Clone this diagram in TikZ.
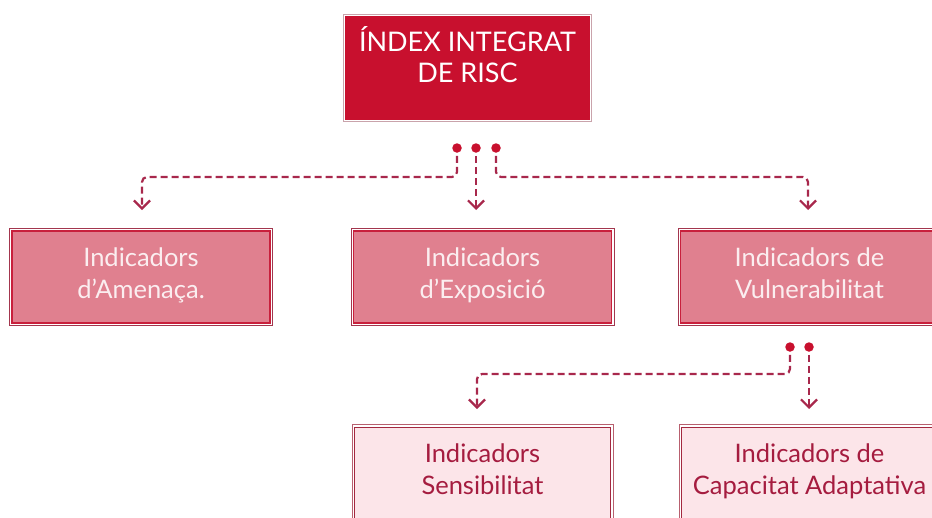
\documentclass[tikz,border=0pt]{standalone}
\usepackage{fontspec}
\setmainfont{Lato}
\usetikzlibrary{arrows.meta,positioning}

\definecolor{riscred}{HTML}{C8102E}
\definecolor{riscedge}{HTML}{C9A3AB}
\definecolor{midfill}{HTML}{E0808F}
\definecolor{midline}{HTML}{C8203C}
\definecolor{midedge}{HTML}{A3364E}
\definecolor{midtext}{HTML}{FBEEF0}
\definecolor{lowfill}{HTML}{FCE5E9}
\definecolor{lowline}{HTML}{A3283F}
\definecolor{lowedge}{HTML}{B8606F}
\definecolor{lowtext}{HTML}{A51C3F}
\definecolor{linkcol}{HTML}{A8284C}

\begin{document}
\begin{tikzpicture}[x=1pt,y=-1pt,
  caixa/.style={rectangle,align=center,inner sep=0pt,
    preaction={draw=#1,line width=6pt},
    preaction={draw=white,line width=4pt}},
  topbox/.style={caixa=riscedge,fill=riscred,draw=riscred,line width=1.5pt,
    minimum width=243pt,minimum height=102pt,text=white,
    font=\fontsize{27}{31}\selectfont},
  midbox/.style={caixa=midedge,fill=midfill,draw=midline,line width=1.5pt,
    minimum width=258pt,minimum height=92pt,text=midtext,
    font=\fontsize{25.5}{32}\selectfont},
  lowbox/.style={caixa=lowedge,fill=lowfill,draw=lowline,line width=1pt,
    minimum width=256pt,minimum height=92pt,text=lowtext,
    font=\fontsize{25.5}{32}\selectfont},
  dot/.style={circle,fill=riscred,inner sep=0pt,minimum size=9.5pt},
  link/.style={draw=linkcol,line width=2.2pt,dash pattern=on 7pt off 4pt,
    rounded corners=5pt,-{Straight Barb[length=8pt,width=16pt,line width=2.2pt]}}]
\clip (0,0) rectangle (932,517);
\useasboundingbox (0,0) rectangle (932,517);

% boxes
\node[topbox] (risc) at (467.5,68) {ÍNDEX INTEGRAT\\DE RISC\\[-3pt]\mbox{}};

\node[midbox] (amen) at (141,277) {Indicadors\\d’Amenaça.\\[-25pt]\mbox{}};
\node[midbox] (expo) at (482.5,277) {Indicadors\\d’Exposició\\[-25pt]\mbox{}};
\node[midbox] (vuln) at (809.5,277) {Indicadors de\\Vulnerabilitat\\[-25pt]\mbox{}};

\node[lowbox] (sens) at (482.5,473) {Indicadors\\Sensibilitat\\[-25pt]\mbox{}};
\node[lowbox] (adap) at (809.5,473) {Indicadors de\\Capacitat Adaptativa\\[-25pt]\mbox{}};

% dots and arrow ends
\node[dot] (da) at (457,148) {};
\node[dot] (db) at (476,148) {};
\node[dot] (dc) at (496,148) {};
\node[dot] (dd) at (790,347) {};
\node[dot] (de) at (809,347) {};

\coordinate (ta) at (142,210);
\coordinate (tb) at (476,210);
\coordinate (tc) at (808,210);
\coordinate (td) at (477,409);
\coordinate (te) at (809,409);

% connectors
\draw[link] ([yshift=-3pt]da.south) -- (da |- 0,177) -| (ta);
\draw[link] ([yshift=-3pt]db.south) -- (tb);
\draw[link] ([yshift=-3pt]dc.south) -- (dc |- 0,177) -| (tc);
\draw[link] ([yshift=-3pt]dd.south) -- (dd |- 0,374) -| (td);
\draw[link] ([yshift=-3pt]de.south) -- (te);
\end{tikzpicture}
\end{document}
